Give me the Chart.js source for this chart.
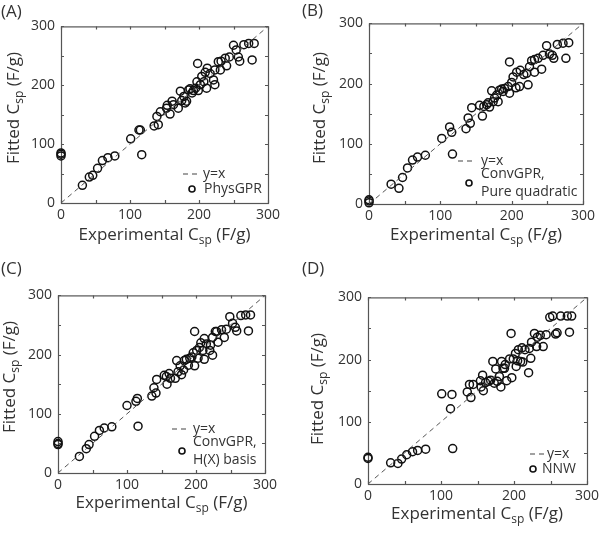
<!DOCTYPE html>
<html>
<head>
<meta charset="utf-8">
<script src="https://cdn.jsdelivr.net/npm/chart.js@4.4.0/dist/chart.umd.min.js"></script>
<style>
body { margin: 0; background: #fff; }
#page { position: relative; width: 600px; height: 534px; overflow: hidden; font-family: "Open Sans", sans-serif; color: #333; }
.box { position: absolute; }
.letter { position: absolute; font-size: 17px; line-height: 20px; }
.xt, .yt { position: absolute; font-size: 17px; line-height: 20px; white-space: nowrap; }
.xt { transform: translateX(-50%); }
.yt { transform: translate(-50%, -50%) rotate(-90deg); }
.xt sub, .yt sub { font-size: 12px; vertical-align: -4px; line-height: 0; }
.leg { position: absolute; font-size: 14px; line-height: 18px; white-space: nowrap; }
</style>
</head>
<body>
<div id="page"></div>
<script>
// axis range and ticks
const axisMin = 0
const axisMax = 300
const labelStep = 100
const markTicks = [0, 50, 100, 150, 200, 250, 300]

// y = x reference line
const refX = [0, 300]
const refY = [0, 300]

// (A) PhysGPR
const expA = [0, 0, 0, 31, 41, 46, 53, 60, 68, 78, 101, 113, 115, 117, 135, 141, 139, 144, 154, 153, 158, 161, 163, 170, 173, 175, 178, 180, 182, 185, 187, 190, 192, 195, 197, 198, 199, 202, 204, 207, 209, 211, 212, 216, 221, 223, 223, 228, 231, 232, 238, 240, 244, 250, 254, 257, 259, 265, 272, 277, 280]
const fitA = [80, 83, 85, 30, 44, 47, 59, 72, 77, 80, 109, 124, 124, 82, 131, 133, 147, 155, 166, 161, 151, 173, 167, 161, 190, 174, 181, 170, 173, 192, 194, 187, 191, 195, 206, 237, 191, 201, 215, 206, 222, 195, 229, 220, 209, 201, 226, 240, 226, 241, 246, 233, 248, 268, 260, 248, 241, 269, 271, 243, 271]

// (B) ConvGPR, pure quadratic
const expB = [0, 0, 0, 31, 42, 47, 54, 61, 68, 79, 102, 113, 116, 117, 136, 139, 142, 144, 155, 159, 161, 165, 167, 169, 172, 174, 176, 179, 181, 183, 186, 188, 190, 195, 197, 197, 200, 202, 206, 207, 211, 212, 217, 221, 223, 225, 228, 232, 232, 237, 242, 244, 249, 253, 257, 259, 264, 272, 276, 280]
const fitB = [2, 5, 7, 33, 26, 44, 60, 73, 78, 81, 109, 128, 119, 83, 125, 143, 134, 160, 164, 146, 162, 165, 168, 161, 188, 170, 176, 181, 170, 189, 191, 187, 192, 195, 184, 236, 202, 211, 193, 219, 195, 222, 215, 217, 198, 228, 238, 219, 240, 242, 224, 247, 263, 249, 247, 242, 265, 267, 242, 268]

// (C) ConvGPR, H(X) basis
const expC = [0, 0, 0, 31, 41, 45, 53, 60, 67, 78, 100, 113, 115, 116, 136, 139, 142, 143, 154, 157, 158, 161, 163, 170, 172, 174, 177, 179, 182, 183, 186, 189, 191, 194, 196, 198, 198, 201, 203, 205, 207, 210, 212, 212, 215, 220, 221, 224, 224, 228, 230, 232, 237, 241, 244, 249, 253, 257, 259, 265, 272, 276, 279]
const fitC = [48, 50, 53, 28, 41, 48, 62, 72, 76, 78, 114, 121, 126, 79, 130, 144, 135, 158, 165, 163, 150, 168, 160, 160, 190, 171, 181, 166, 174, 190, 192, 182, 194, 196, 203, 239, 181, 207, 194, 212, 220, 207, 227, 192, 218, 207, 216, 199, 229, 239, 239, 221, 242, 229, 243, 264, 253, 246, 240, 266, 267, 240, 267]

// (D) NNW
const expD = [0, 0, 31, 41, 46, 53, 61, 68, 79, 101, 113, 115, 116, 136, 139, 141, 144, 154, 155, 157, 158, 161, 165, 168, 171, 173, 175, 177, 180, 182, 183, 185, 187, 188, 190, 194, 196, 197, 199, 202, 203, 205, 206, 209, 211, 212, 215, 220, 221, 223, 224, 228, 231, 232, 236, 240, 244, 249, 253, 257, 259, 264, 273, 276, 279]
const fitD = [41, 43, 34, 33, 40, 47, 52, 54, 56, 145, 121, 144, 57, 148, 160, 139, 160, 166, 156, 175, 150, 163, 165, 167, 197, 162, 185, 165, 173, 156, 197, 186, 186, 192, 166, 201, 242, 171, 201, 210, 189, 198, 216, 197, 219, 196, 216, 179, 218, 202, 228, 242, 221, 236, 239, 221, 240, 268, 270, 241, 243, 270, 270, 244, 270]

const panels = [
	{ letter: '(A)', exp: expA, fit: fitA, plot: [61, 24, 207, 179], letterAt: [1, 1],
		xTitle: [164.5, 224], yTitle: [12.5, 108],
		legend: { dash: [183, 174], mark: [192, 189], text: [203, 204], lines: ['y=x', 'PhysGPR'] } },
	{ letter: '(B)', exp: expB, fit: fitB, plot: [369, 21, 214, 183], letterAt: [302, 0],
		xTitle: [476, 224], yTitle: [318.5, 108],
		legend: { dash: [458, 161], mark: [469, 183], text: [481, 481], lines: ['y=x', 'ConvGPR,', 'Pure quadratic'] } },
	{ letter: '(C)', exp: expC, fit: fitC, plot: [58, 293, 207, 180], letterAt: [1, 258],
		xTitle: [161.5, 492], yTitle: [8.5, 377],
		legend: { dash: [172, 429], mark: [182, 451], text: [193, 193], lines: ['y=x', 'ConvGPR,', 'H(X) basis'] } },
	{ letter: '(D)', exp: expD, fit: fitD, plot: [368, 295, 219, 189], letterAt: [302, 258],
		xTitle: [477, 503], yTitle: [316.5, 389],
		legend: { dash: [530, 454], mark: [533, 469], text: [547, 542], lines: ['y=x', 'NNW'] } }
]

const ink = '#333'
const frameInk = '#555'
const padLeft = 50, padTop = 12, padRight = 22, padBottom = 28

// frame round the plot area with short inward ticks on every side
const framePlugin = {
	id: 'frame',
	beforeDatasetsDraw(chart) {
		const { ctx, chartArea: a, scales } = chart
		ctx.save()
		ctx.strokeStyle = frameInk
		ctx.lineWidth = 1.2
		ctx.strokeRect(a.left + 0.5, a.top + 0.5, a.right - a.left, a.bottom - a.top)
		ctx.beginPath()
		for (const v of markTicks) {
			const px = Math.round(scales.x.getPixelForValue(v)) + 0.5
			const py = Math.round(scales.y.getPixelForValue(v)) + 0.5
			ctx.moveTo(px, a.bottom); ctx.lineTo(px, a.bottom - 3)
			ctx.moveTo(px, a.top); ctx.lineTo(px, a.top + 3)
			ctx.moveTo(a.left, py); ctx.lineTo(a.left + 3, py)
			ctx.moveTo(a.right, py); ctx.lineTo(a.right - 3, py)
		}
		ctx.stroke()
		ctx.restore()
	}
}

function axis(afterFit, pad) {
	return {
		min: axisMin, max: axisMax,
		grid: { display: false, drawTicks: false },
		border: { display: false },
		ticks: { stepSize: labelStep, color: ink, padding: pad, font: { family: 'Open Sans', size: 14 } },
		afterFit: afterFit
	}
}

const page = document.getElementById('page')

for (const p of panels) {
	const [L, T, W, H] = p.plot
	const box = document.createElement('div')
	box.className = 'box'
	box.style.left = (L - padLeft) + 'px'
	box.style.top = (T - padTop) + 'px'
	box.style.width = (W + padLeft + padRight) + 'px'
	box.style.height = (H + padTop + padBottom) + 'px'
	const canvas = document.createElement('canvas')
	box.appendChild(canvas)
	page.appendChild(box)

	const pts = p.exp.map((x, i) => ({ x: x, y: p.fit[i] }))
	const ref = refX.map((x, i) => ({ x: x, y: refY[i] }))

	new Chart(canvas, {
		type: 'scatter',
		data: {
			datasets: [
				{ data: ref, showLine: true, pointRadius: 0, borderColor: '#555', borderWidth: 1, borderDash: [5, 4] },
				{ data: pts, pointRadius: 4, pointBorderWidth: 1.5, borderColor: '#111', backgroundColor: 'rgba(0,0,0,0)', clip: false }
			]
		},
		options: {
			responsive: true,
			maintainAspectRatio: false,
			animation: false,
			layout: { padding: { top: padTop, right: padRight, left: 0, bottom: 0 } },
			plugins: { legend: { display: false }, tooltip: { enabled: false } },
			scales: {
				x: axis(s => { s.height = padBottom }, 4),
				y: axis(s => { s.width = padLeft }, 6)
			}
		},
		plugins: [framePlugin]
	})

	// panel letter and axis titles
	const lt = document.createElement('div')
	lt.className = 'letter'
	lt.style.left = p.letterAt[0] + 'px'
	lt.style.top = p.letterAt[1] + 'px'
	lt.textContent = p.letter
	page.appendChild(lt)

	const xt = document.createElement('div')
	xt.className = 'xt'
	xt.style.left = p.xTitle[0] + 'px'
	xt.style.top = p.xTitle[1] + 'px'
	xt.innerHTML = 'Experimental C<sub>sp</sub> (F/g)'
	page.appendChild(xt)

	const yt = document.createElement('div')
	yt.className = 'yt'
	yt.style.left = p.yTitle[0] + 'px'
	yt.style.top = p.yTitle[1] + 'px'
	yt.innerHTML = 'Fitted C<sub>sp</sub> (F/g)'
	page.appendChild(yt)

	// legend
	const lg = p.legend
	const svg = document.createElementNS('http://www.w3.org/2000/svg', 'svg')
	svg.setAttribute('width', '600'); svg.setAttribute('height', '534')
	svg.style.position = 'absolute'; svg.style.left = '0'; svg.style.top = '0'
	svg.innerHTML =
		`<line x1="${lg.dash[0]}" y1="${lg.dash[1]}" x2="${lg.dash[0] + 16}" y2="${lg.dash[1]}" stroke="#444" stroke-width="1.2" stroke-dasharray="5,4"/>` +
		`<circle cx="${lg.mark[0]}" cy="${lg.mark[1]}" r="3" fill="none" stroke="#111" stroke-width="1.6"/>`
	page.appendChild(svg)

	const t1 = document.createElement('div')
	t1.className = 'leg'
	t1.style.left = lg.text[0] + 'px'
	t1.style.top = (lg.dash[1] - 10) + 'px'
	t1.textContent = lg.lines[0]
	page.appendChild(t1)

	const t2 = document.createElement('div')
	t2.className = 'leg'
	t2.style.left = lg.text[1] + 'px'
	t2.style.top = (lg.mark[1] - 10 - 9 * (lg.lines.length - 2)) + 'px'
	t2.innerHTML = lg.lines.slice(1).join('<br>')
	page.appendChild(t2)
}
</script>
</body>
</html>
